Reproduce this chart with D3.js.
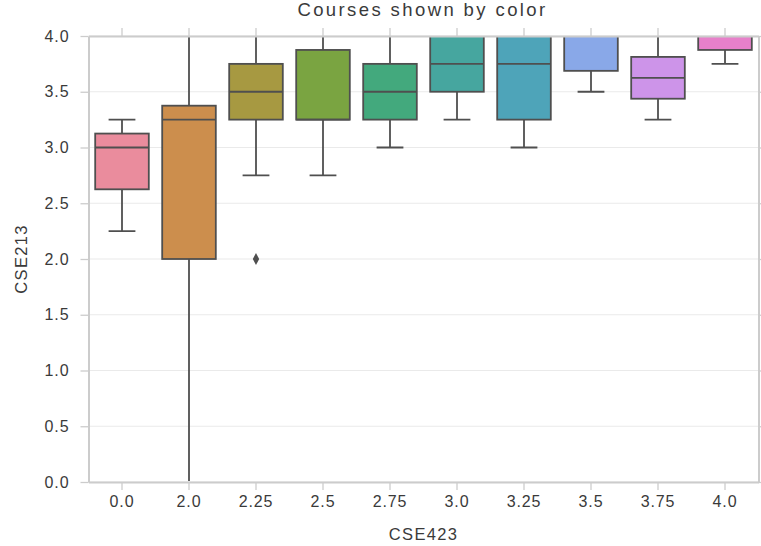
<!DOCTYPE html>
<html>
<head>
<meta charset="utf-8">
<script src="https://cdn.jsdelivr.net/npm/d3@7"></script>
<style>
  html, body { margin: 0; padding: 0; background: #fff; }
  text { font-family: "Liberation Sans", Arial, sans-serif; }
</style>
</head>
<body>
<svg id="chart" width="761" height="546"></svg>
<script>
// CSE423 grade groups and the CSE213 distribution within each group
const categories = ["0.0", "2.0", "2.25", "2.5", "2.75", "3.0", "3.25", "3.5", "3.75", "4.0"];
const whiskerLow = [2.25, 0.0, 2.75, 2.75, 3.0, 3.25, 3.0, 3.5, 3.25, 3.75];
const q1 =         [2.625, 2.0, 3.25, 3.25, 3.25, 3.5, 3.25, 3.6875, 3.4375, 3.875];
const median =     [3.0, 3.25, 3.5, 3.25, 3.5, 3.75, 3.75, 4.0, 3.625, 4.0];
const q3 =         [3.125, 3.375, 3.75, 3.875, 3.75, 4.0, 4.0, 4.0, 3.8125, 4.0];
const whiskerHigh = [3.25, 4.0, 4.0, 4.0, 4.0, 4.0, 4.0, 4.0, 4.0, 4.0];
const outliers = [{ cat: "2.25", value: 2.0 }];
const yTicks = [0.0, 0.5, 1.0, 1.5, 2.0, 2.5, 3.0, 3.5, 4.0];
// husl palette, desaturated as box fills
const palette = ["#f77189", "#dc8932", "#ae9d31", "#77ab31", "#33b07a",
                 "#36ada4", "#38a9c5", "#6e9bf4", "#cc7af4", "#f565cc"];

const boxes = categories.map((c, i) => ({
  cat: c, lo: whiskerLow[i], q1: q1[i], med: median[i], q3: q3[i], hi: whiskerHigh[i],
  color: (() => { const h = d3.hsl(palette[i]); h.s *= 0.78; h.l = Math.min(0.8, h.l * 1.04); return h.formatHex(); })()
}));

const svg = d3.select("#chart");
const margin = { left: 88.5, right: 2.5, top: 36, bottom: 64 };
const W = 761, H = 546;
const x = d3.scaleBand().domain(categories).range([margin.left, W - margin.right]).paddingInner(0).paddingOuter(0);
const y = d3.scaleLinear().domain([0, 4]).range([H - margin.bottom, margin.top]);

const axisColor = "#cccccc";
const lineColor = "#4f4f4f";
const textColor = "#3a3a3a";

// marks are clipped just inside the spines
svg.append("defs").append("clipPath").attr("id", "plot-clip")
  .append("rect").attr("x", margin.left + 1).attr("y", margin.top + 1)
  .attr("width", W - margin.right - margin.left - 2).attr("height", y(0) - margin.top - 2);

// horizontal grid
svg.append("g").selectAll("line").data(yTicks).join("line")
  .attr("x1", margin.left).attr("x2", W - margin.right)
  .attr("y1", d => y(d)).attr("y2", d => y(d))
  .attr("stroke", "#eaeaea").attr("stroke-width", 1.2);

const boxW = x.bandwidth() * 0.8;
const capW = boxW * 0.5;
const plot = svg.append("g").attr("clip-path", "url(#plot-clip)");
const g = plot.selectAll("g").data(boxes).join("g")
  .attr("transform", d => `translate(${x(d.cat) + x.bandwidth() / 2},0)`);
const sw = 1.8;

// whiskers
g.append("line").attr("x1", 0).attr("x2", 0)
  .attr("y1", d => y(d.q1)).attr("y2", d => y(d.lo))
  .attr("stroke", lineColor).attr("stroke-width", sw);
g.append("line").attr("x1", 0).attr("x2", 0)
  .attr("y1", d => y(d.q3)).attr("y2", d => y(d.hi))
  .attr("stroke", lineColor).attr("stroke-width", sw);
// caps
g.append("line").attr("x1", -capW / 2).attr("x2", capW / 2)
  .attr("y1", d => y(d.lo)).attr("y2", d => y(d.lo))
  .attr("stroke", lineColor).attr("stroke-width", sw);
g.append("line").attr("x1", -capW / 2).attr("x2", capW / 2)
  .attr("y1", d => y(d.hi)).attr("y2", d => y(d.hi))
  .attr("stroke", lineColor).attr("stroke-width", sw);
// interquartile boxes and medians
g.append("rect").attr("x", -boxW / 2).attr("width", boxW)
  .attr("y", d => y(d.q3)).attr("height", d => y(d.q1) - y(d.q3))
  .attr("fill", d => d.color).attr("stroke", lineColor).attr("stroke-width", sw);
g.append("line").attr("x1", -boxW / 2).attr("x2", boxW / 2)
  .attr("y1", d => y(d.med)).attr("y2", d => y(d.med))
  .attr("stroke", lineColor).attr("stroke-width", sw);

// outliers as diamonds
plot.append("g").selectAll("path").data(outliers).join("path")
  .attr("transform", d => `translate(${x(d.cat) + x.bandwidth() / 2},${y(d.value)})`)
  .attr("d", "M0,-6L3.2,0L0,6L-3.2,0Z")
  .attr("fill", lineColor);

// axes drawn over the marks
const styleAxis = g => {
  g.select(".domain").attr("stroke", axisColor).attr("stroke-width", 2);
  g.selectAll(".tick line").attr("stroke", axisColor).attr("stroke-width", 1.3);
  g.selectAll("text").attr("fill", textColor)
    .style("font-size", "16px").style("letter-spacing", "0.9px");
};
svg.append("g").attr("transform", `translate(0,${y(0)})`)
  .call(d3.axisBottom(x).tickSize(8).tickPadding(6).tickSizeOuter(0)).call(styleAxis);
svg.append("g").attr("transform", `translate(0,${y(4)})`)
  .call(d3.axisTop(x).tickSize(8).tickSizeOuter(0)).call(styleAxis)
  .call(g => g.selectAll("text").remove());
svg.append("g").attr("transform", `translate(${margin.left},0)`)
  .call(d3.axisLeft(y).tickValues(yTicks).tickFormat(d3.format(".1f")).tickSize(8).tickPadding(11).tickSizeOuter(0))
  .call(styleAxis);
svg.append("g").attr("transform", `translate(${W - margin.right},0)`)
  .call(d3.axisRight(y).tickValues(yTicks).tickSize(8).tickSizeOuter(0)).call(styleAxis)
  .call(g => g.selectAll("text").remove());

// title and axis labels
svg.append("text").attr("x", (margin.left + W - margin.right) / 2 - 1).attr("y", 16)
  .attr("text-anchor", "middle").attr("fill", textColor)
  .style("font-size", "18.5px").style("letter-spacing", "2.4px")
  .text("Courses shown by color");
svg.append("text").attr("x", (margin.left + W - margin.right) / 2).attr("y", 540)
  .attr("text-anchor", "middle").attr("fill", textColor)
  .style("font-size", "16.5px").style("letter-spacing", "1.3px")
  .text("CSE423");
svg.append("text").attr("transform", `translate(27,${(margin.top + H - margin.bottom) / 2}) rotate(-90)`)
  .attr("text-anchor", "middle").attr("fill", textColor)
  .style("font-size", "16.5px").style("letter-spacing", "1.3px")
  .text("CSE213");
</script>
</body>
</html>
